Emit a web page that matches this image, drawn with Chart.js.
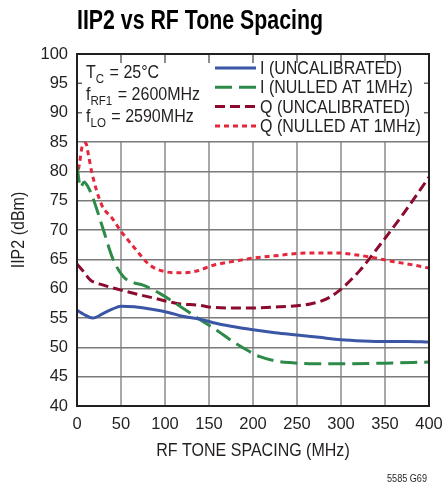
<!DOCTYPE html>
<html>
<head>
<meta charset="utf-8">
<script src="https://cdn.jsdelivr.net/npm/chart.js@4"></script>
<style>
  html, body { margin: 0; padding: 0; background: #fff; }
</style>
</head>
<body>
<canvas id="grafico" width="446" height="486"></canvas>
<script>
// Datos (MHz, dBm)
const iUncalX = [0, 8, 18, 30, 40, 50, 65, 85, 105, 120, 140, 155, 175, 200, 225, 250, 275, 300, 325, 350, 375, 400];
const iUncalY = [56.3, 55.6, 55.0, 55.8, 56.5, 57.0, 56.9, 56.5, 55.9, 55.3, 54.8, 54.2, 53.6, 53.0, 52.5, 52.1, 51.7, 51.3, 51.1, 51.0, 51.0, 50.9];

const iNullX = [0, 4, 8, 12, 18, 30, 41, 53, 65, 75, 94, 117, 140, 160, 175, 190, 208, 225, 242, 270, 306, 350, 400];
const iNullY = [81.0, 77.3, 78.2, 77.5, 75.5, 70.0, 65.0, 62.0, 61.0, 60.6, 59.2, 57.0, 54.7, 52.8, 51.2, 49.8, 48.4, 47.7, 47.4, 47.2, 47.2, 47.3, 47.5];

const qUncalX = [0, 8, 15, 30, 49, 70, 87, 117, 138, 155, 193, 230, 250, 265, 276, 288, 299, 310, 322, 344, 371, 400];
const qUncalY = [64.2, 62.8, 61.5, 60.6, 59.8, 59.0, 58.4, 57.4, 57.2, 56.8, 56.7, 56.9, 57.1, 57.4, 57.8, 58.6, 59.8, 61.3, 63.2, 67.4, 72.8, 79.0];

const qNullX = [0, 3, 6, 10, 13, 17, 28, 40, 49, 64, 83, 100, 117, 136, 155, 180, 200, 225, 250, 275, 295, 315, 333, 360, 380, 400];
const qNullY = [78.8, 81.5, 84.3, 84.8, 82.8, 79.7, 74.3, 72.0, 70.0, 67.2, 64.0, 62.9, 62.7, 63.0, 64.0, 64.7, 65.2, 65.6, 66.0, 66.1, 66.1, 65.8, 65.4, 64.6, 64.1, 63.5];

const ticksX = [0, 50, 100, 150, 200, 250, 300, 350, 400];
const ticksY = [40, 45, 50, 55, 60, 65, 70, 75, 80, 85, 90, 95, 100];

const etiquetas = ['I (UNCALIBRATED)', 'I (NULLED AT 1MHz)', 'Q (UNCALIBRATED)', 'Q (NULLED AT 1MHz)'];
const titulo = 'IIP2 vs RF Tone Spacing';
const tituloX = 'RF TONE SPACING (MHz)';
const tituloY = 'IIP2 (dBm)';
const nota = '5585 G69';

const FUENTE = '"Liberation Sans", Arial, sans-serif';
const NEGRO = '#231f20';
const ESTRECHO = 0.89; // la fuente original es condensada

function puntos(xs, ys) {
    return xs.map((x, i) => ({ x: x, y: ys[i] }));
}

const series = [
    { label: etiquetas[0], data: puntos(iUncalX, iUncalY), borderColor: '#3b56a5', borderDash: [] },
    { label: etiquetas[1], data: puntos(iNullX, iNullY), borderColor: '#2e8a48', borderDash: [17, 7] },
    { label: etiquetas[2], data: puntos(qUncalX, qUncalY), borderColor: '#8c0a2e', borderDash: [10, 5] },
    { label: etiquetas[3], data: puntos(qNullX, qNullY), borderColor: '#e5273d', borderDash: [5, 4] }
];

// Escribe texto comprimido horizontalmente; devuelve el ancho ocupado
function texto(ctx, t, x, y, size, rot) {
    ctx.save();
    ctx.font = size + 'px ' + FUENTE;
    ctx.translate(x, y);
    if (rot) ctx.rotate(rot);
    ctx.scale(ESTRECHO, 1);
    ctx.fillText(t, 0, 0);
    const w = ctx.measureText(t).width * ESTRECHO;
    ctx.restore();
    return w;
}

// Texto con subíndice (T_C, f_RF1, f_LO)
function textoSub(ctx, x, y, base, sub, resto) {
    x += texto(ctx, base, x, y, 18);
    x += texto(ctx, sub, x, y + 5, 13) + 1;
    texto(ctx, resto, x, y, 18);
}

const extras = {
    id: 'extras',
    beforeDatasetsDraw(chart) {
        const { ctx, chartArea: a, scales: { x, y } } = chart;
        const y85 = y.getPixelForValue(85);
        ctx.save();
        // zona superior sin rejilla
        ctx.fillStyle = '#fff';
        ctx.fillRect(a.left, a.top, a.right - a.left, y85 - a.top - 1);
        ctx.strokeStyle = '#666';
        ctx.lineWidth = 1.5;
        ctx.beginPath();
        ticksX.slice(1, -1).forEach(v => {
            const px = x.getPixelForValue(v);
            ctx.moveTo(px, a.top);
            ctx.lineTo(px, a.top + 9);
        });
        [95, 90].forEach(v => {
            const py = y.getPixelForValue(v);
            ctx.moveTo(a.left, py);
            ctx.lineTo(a.left + 5, py);
            ctx.moveTo(a.right, py);
            ctx.lineTo(a.right - 5, py);
        });
        ctx.stroke();
        ctx.restore();
    },
    afterDatasetsDraw(chart) {
        const { ctx, chartArea: a } = chart;
        ctx.save();
        // marco
        ctx.strokeStyle = NEGRO;
        ctx.lineWidth = 2;
        ctx.strokeRect(a.left, a.top, a.right - a.left, a.bottom - a.top);

        // anotación de condiciones
        ctx.fillStyle = NEGRO;
        ctx.textBaseline = 'alphabetic';
        ctx.textAlign = 'left';
        textoSub(ctx, 86, 78, 'T', 'C', ' = 25°C');
        textoSub(ctx, 86, 100, 'f', 'RF1', ' = 2600MHz');
        textoSub(ctx, 86, 122, 'f', 'LO', ' = 2590MHz');

        // leyenda
        chart.data.datasets.forEach((ds, i) => {
            const fy = 68 + i * 19.3;
            ctx.strokeStyle = ds.borderColor;
            ctx.lineWidth = 3;
            ctx.setLineDash(ds.borderDash);
            ctx.beginPath();
            ctx.moveTo(215, fy);
            ctx.lineTo(256, fy);
            ctx.stroke();
            ctx.setLineDash([]);
            ctx.fillStyle = NEGRO;
            ctx.textBaseline = 'middle';
            texto(ctx, ds.label, 260, fy + 1, 18);
        });
        ctx.restore();
    },
    afterDraw(chart) {
        const { ctx, chartArea: a } = chart;
        ctx.save();
        ctx.fillStyle = '#000';
        ctx.textAlign = 'left';
        ctx.textBaseline = 'alphabetic';
        ctx.font = 'bold 28px ' + FUENTE;
        ctx.fillText(titulo, 77, 29, 246);

        // títulos de ejes
        ctx.fillStyle = NEGRO;
        ctx.textAlign = 'center';
        ctx.textBaseline = 'middle';
        texto(ctx, tituloX, (a.left + a.right) / 2, 451, 18);
        texto(ctx, tituloY, 19, (a.top + a.bottom) / 2, 18, -Math.PI / 2);

        ctx.textAlign = 'right';
        ctx.textBaseline = 'alphabetic';
        ctx.font = '11px ' + FUENTE;
        ctx.fillText(nota, 427, 482, 40);
        ctx.restore();
    }
};

new Chart(document.getElementById('grafico'), {
    type: 'line',
    data: {
        datasets: series.map(s => ({
            label: s.label,
            data: s.data,
            borderColor: s.borderColor,
            borderDash: s.borderDash,
            borderWidth: 3,
            pointRadius: 0,
            fill: false,
            tension: 0.4,
            cubicInterpolationMode: 'monotone'
        }))
    },
    options: {
        responsive: false,
        animation: false,
        devicePixelRatio: 1,
        layout: { padding: { left: 0, top: 54, right: 17, bottom: 0 } },
        plugins: {
            legend: { display: false },
            tooltip: { enabled: false }
        },
        scales: {
            x: {
                type: 'linear',
                min: 0,
                max: 400,
                afterBuildTicks: s => { s.ticks = ticksX.map(v => ({ value: v })); },
                afterFit: s => {
                    s.height = 80;
                    s.paddingLeft = 0;
                    s.paddingRight = 0;
                },
                grid: { color: '#a8a8a8', lineWidth: 2, drawTicks: false },
                border: { display: false },
                ticks: { color: NEGRO, padding: 9, maxRotation: 0, font: { family: FUENTE, size: 16.5 } }
            },
            y: {
                min: 40,
                max: 100,
                afterBuildTicks: s => { s.ticks = ticksY.map(v => ({ value: v })); },
                afterFit: s => {
                    s.width = 77;
                    s.paddingTop = 0;
                    s.paddingBottom = 0;
                },
                grid: { color: '#7a7a7a', lineWidth: 1.5, drawTicks: false },
                border: { display: false },
                ticks: { color: NEGRO, padding: 9, font: { family: FUENTE, size: 16.5 } }
            }
        }
    },
    plugins: [extras]
});
</script>
</body>
</html>
